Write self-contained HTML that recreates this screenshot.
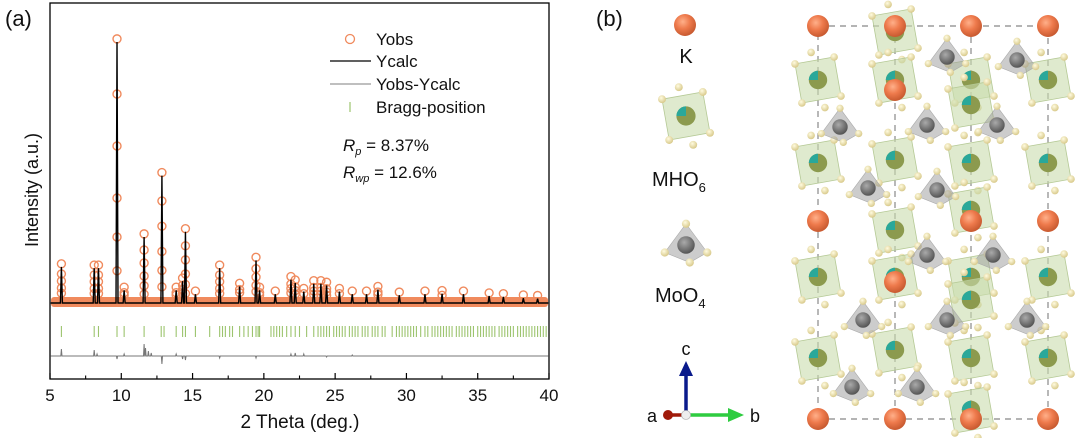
<!DOCTYPE html>
<html><head><meta charset="utf-8"><style>
body{margin:0;background:#fff;width:1080px;height:438px;overflow:hidden;font-family:"Liberation Sans",Arial,sans-serif}
svg text{font-family:"Liberation Sans",Arial,sans-serif}
</style></head><body>
<svg id="fig" width="1080" height="438" viewBox="0 0 1080 438" xmlns="http://www.w3.org/2000/svg">
<g id="chart"></g>
<g id="struct"></g>
</svg>
<script>
// ---------- Chart data ----------
const peakPos = [5.8,8.1,8.4,9.7,10.2,11.6,12.85,13.85,14.3,14.5,15.2,16.9,18.3,19.45,19.7,20.8,21.9,22.2,22.8,23.5,24.0,24.4,25.3,26.2,27.2,28.0,29.5,31.3,32.5,34.0,35.8,36.8,38.2,39.2];
const peakInt = [13.5,13,13,100,4.5,25,48.6,4.5,8,27,3,13,6,16,4.5,3,8.6,7.3,4,7,7,6.4,4,3,3,4.8,2.6,3,3.2,3,2.3,2,1.5,1.3];
const braggPos = [5.8,8.1,8.4,9.7,10.2,11.6,12.8,13.0,13.85,14.3,14.5,15.2,16.2,16.9,17.1,17.3,17.6,17.8,18.3,18.6,18.9,19.2,19.45,19.6,19.7,20.5,20.7,20.9,21.1,21.3,21.6,21.9,22.2,22.5,23.0,23.5,23.8,24.0,24.2,24.4,24.6,24.9,25.1,25.3,25.5,25.7,26.0,26.2,26.4,26.6,26.9,27.1,27.3,27.6,27.8,28.0,28.3,28.5,29.0,29.3,29.5,29.7,29.9,30.1,30.3,30.5,30.7,31.0,31.3,31.5,31.8,32.0,32.2,32.4,32.6,32.8,33.0,33.2,33.5,33.7,33.9,34.1,34.3,34.5,34.7,35.0,35.2,35.4,35.6,35.8,36.0,36.2,36.5,36.7,36.9,37.1,37.3,37.5,37.8,38.0,38.2,38.4,38.6,38.8,39.0,39.2,39.4,39.6,39.8];
const diffPos = [5.8,8.1,8.3,9.7,10.2,11.6,11.7,11.9,12.1,12.85,13.85,14.3,14.5,16.9,19.45,21.9,22.2,22.8,24.4,26.2];
const diffVal = [7,6,2,-3,2,12,8,5,3,-8,2,-3,-4,-2,-2,2,3,2,-1,1];
const xTicks = [5,10,15,20,25,30,35,40];

const NS="http://www.w3.org/2000/svg";
function mk(parent,tag,attrs){const e=document.createElementNS(NS,tag);for(const k in attrs)e.setAttribute(k,attrs[k]);parent.appendChild(e);return e;}
const chart=document.getElementById('chart');
const X0=50,X1=549,YT=3,YB=379,BASE=302,TOP=42;
const xs=v=>X0+(v-5)/35*(X1-X0);
const ys=v=>BASE-(v/100)*(BASE-TOP);

let fr=mk(chart,'rect',{x:X0,y:YT,width:X1-X0,height:YB-YT,fill:'none',stroke:'#000','stroke-width':1.3});


for(let i=0;i<xTicks.length;i++){
  const t=xTicks[i];
  let l=mk(chart,'line',{x1:xs(t),x2:xs(t),y1:YB,y2:YB-6,stroke:'#000','stroke-width':1.2});
  
  
  if(i<xTicks.length-1){
    let m=mk(chart,'line',{x1:xs(t+2.5),x2:xs(t+2.5),y1:YB,y2:YB-3.5,stroke:'#000','stroke-width':1.1});
    
    
  }
  let tx=mk(chart,'text',{x:xs(t),y:401,'font-size':17,'text-anchor':'middle',fill:'#111'});
  tx.textContent=t;
  
  
}
let band=mk(chart,'rect',{x:X0+1,y:BASE-5,width:X1-X0-2,height:10,fill:'#f08a5d',rx:3});


const fracs=[1,0.8,0.6,0.4,0.25,0.12];
for(let i=0;i<peakPos.length;i++){
  const h=peakInt[i];
  fracs.forEach(f=>{
    if(h*f<2.5 && f<1)return;
    let c=mk(chart,'circle',{cx:xs(peakPos[i]),cy:ys(h*f+(f===1?1.2:0)),r:4,fill:'none',stroke:'#f08a5d','stroke-width':1.4});
    
    
  });
}
let d='M'+xs(5.05)+','+(BASE+1);
peakPos.forEach((p,i)=>{d+=' L'+(xs(p)-1)+','+(BASE+1)+' L'+xs(p)+','+ys(peakInt[i])+' L'+(xs(p)+1)+','+(BASE+1);});
d+=' L'+xs(39.95)+','+(BASE+1);
let yc=mk(chart,'path',{d:d,fill:'none',stroke:'#000','stroke-width':1.4});


braggPos.forEach(p=>{
  let b=mk(chart,'line',{x1:xs(p),x2:xs(p),y1:326,y2:337,stroke:'#9cc46e','stroke-width':1.1});
  
  
});
const DB=356;
let dd='M'+xs(5.05)+','+DB;
diffPos.forEach((p,i)=>{dd+=' L'+(xs(p)-0.6)+','+DB+' L'+xs(p)+','+(DB-diffVal[i])+' L'+(xs(p)+0.6)+','+DB;});
dd+=' L'+xs(39.95)+','+DB;
let df=mk(chart,'path',{d:dd,fill:'none',stroke:'#777','stroke-width':1});


</script>
<script>
const ch=document.getElementById('chart');
ch.insertAdjacentHTML('beforeend',`
<text x="5" y="26" font-size="22" fill="#111">(a)</text>
<text x="0" y="0" font-size="18" fill="#111" text-anchor="middle" transform="translate(38,190) rotate(-90)">Intensity (a.u.)</text>
<text x="300" y="428" font-size="19" fill="#111" text-anchor="middle">2 Theta (deg.)</text>
<g>
<circle cx="350" cy="39" r="4.5" fill="none" stroke="#f08a5d" stroke-width="1.3"/>
<text x="376" y="45" font-size="17" fill="#111">Yobs</text>
<line x1="330" x2="371" y1="61" y2="61" stroke="#000" stroke-width="1.3"/>
<text x="376" y="67" font-size="17" fill="#111">Ycalc</text>
<line x1="330" x2="371" y1="84" y2="84" stroke="#999" stroke-width="1.2"/>
<text x="376" y="90" font-size="17" fill="#111">Yobs-Ycalc</text>
<line x1="350" x2="350" y1="102" y2="112" stroke="#9cc46e" stroke-width="1.2"/>
<text x="376" y="113" font-size="17" fill="#111">Bragg-position</text>
</g>
<text x="343" y="151" font-size="17" fill="#111"><tspan font-style="italic">R</tspan><tspan font-style="italic" font-size="11" dy="4">p</tspan><tspan dy="-4"> = 8.37%</tspan></text>
<text x="343" y="178" font-size="17" fill="#111"><tspan font-style="italic">R</tspan><tspan font-style="italic" font-size="11" dy="4">wp</tspan><tspan dy="-4"> = 12.6%</tspan></text>
`);

const st=document.getElementById('struct');
let h=`<defs>
<radialGradient id="gK" cx="40%" cy="35%" r="65%"><stop offset="0" stop-color="#ffb08a"/><stop offset="0.5" stop-color="#ee7a4c"/><stop offset="1" stop-color="#c85a30"/></radialGradient>
<radialGradient id="gO" cx="40%" cy="35%" r="65%"><stop offset="0" stop-color="#fffbe0"/><stop offset="1" stop-color="#d8c98a"/></radialGradient>
<radialGradient id="gMo" cx="40%" cy="35%" r="65%"><stop offset="0" stop-color="#aaa"/><stop offset="1" stop-color="#555"/></radialGradient>
</defs>
<text x="596" y="26" font-size="22" fill="#111">(b)</text>`;
h+=`<g stroke="#888" stroke-width="1.2" stroke-dasharray="6,5" fill="none">
<rect x="818" y="26" width="230" height="393"/><line x1="895" y1="26" x2="895" y2="419"/><line x1="971" y1="26" x2="971" y2="419"/></g>`;
function oct(x,y,s){
  let r=`<g><polygon points="${x-20*s},${y-14*s} ${x+14*s},${y-20*s} ${x+20*s},${y+14*s} ${x-14*s},${y+20*s}" fill="#c9dcae" fill-opacity="0.6" stroke="#b5c995" stroke-width="0.8"/>`;
  r+=`<circle cx="${x}" cy="${y}" r="${8*s}" fill="#8c9a4e"/><path d="M${x-8*s},${y} A${8*s},${8*s} 0 0 1 ${x},${y-8*s} L${x},${y}Z" fill="#2aa89a"/>`;
  [[-20,-14],[14,-20],[20,14],[-14,20],[-6,-24],[6,24]].forEach(([a,b])=>{r+=`<circle cx="${x+a*s}" cy="${y+b*s}" r="${3.3*s}" fill="url(#gO)"/>`;});
  return r+'</g>';
}
function tet(x,y,s){
  let r=`<g><polygon points="${x},${y-17*s} ${x+17*s},${y+6*s} ${x+3*s},${y+14*s} ${x-17*s},${y+6*s}" fill="#999" fill-opacity="0.5" stroke="#aaa" stroke-width="0.6"/>`;
  r+=`<circle cx="${x}" cy="${y}" r="${7*s}" fill="url(#gMo)"/>`;
  [[0,-17],[17,6],[3,14],[-17,6]].forEach(([a,b])=>{r+=`<circle cx="${x+a*s}" cy="${y+b*s}" r="${3.3*s}" fill="url(#gO)"/>`;});
  return r+'</g>';
}
const octs=[[818,80],[818,163],[818,277],[818,358],[895,32],[895,80],[895,160],[895,230],[895,277],[895,350],[971,80],[971,105],[971,163],[971,210],[971,277],[971,300],[971,358],[971,410],[1048,80],[1048,163],[1048,277],[1048,358]];
octs.forEach(([x,y])=>h+=oct(x,y,1.15));
const tets=[[840,127],[927,125],[997,125],[1017,60],[947,57],[868,188],[937,190],[927,255],[993,255],[863,320],[947,320],[1027,320],[852,387],[917,387]];
tets.forEach(([x,y])=>h+=tet(x,y,1.1));
const Ks=[[818,26],[895,26],[971,26],[1048,26],[895,90],[818,221],[971,221],[1048,221],[895,282],[818,419],[895,419],[971,419],[1048,419]];
Ks.forEach(([x,y])=>h+=`<circle cx="${x}" cy="${y}" r="11" fill="url(#gK)"/>`);
h+=`<circle cx="685" cy="25" r="11" fill="url(#gK)"/>
<text x="686" y="63" font-size="20" text-anchor="middle" fill="#111">K</text>`;
h+=oct(686,116,1.2).replace('mho6-octahedron','mho6-legend-icon');
h+=`<text x="652" y="186" font-size="20" fill="#111">MHO<tspan font-size="13" dy="6">6</tspan></text>`;
h+=tet(686,245,1.25).replace('moo4-tetrahedron','moo4-legend-icon');
h+=`<text x="655" y="302" font-size="20" fill="#111">MoO<tspan font-size="13" dy="6">4</tspan></text>`;
h+=`<g>
<line x1="686" y1="415" x2="686" y2="374" stroke="#0a1a8c" stroke-width="3.5"/><polygon points="679,376 693,376 686,361" fill="#0a1a8c"/>
<line x1="686" y1="415" x2="730" y2="415" stroke="#2ecc40" stroke-width="3.5"/><polygon points="728,408 728,422 744,415" fill="#2ecc40"/>
<line x1="686" y1="415" x2="670" y2="415" stroke="#a01a0a" stroke-width="3.5"/><circle cx="668" cy="415" r="5" fill="#a01a0a"/>
<circle cx="686" cy="415" r="4.5" fill="#eee" stroke="#bbb" stroke-width="0.8"/>
<text x="686" y="355" font-size="18" text-anchor="middle" fill="#111">c</text>
<text x="647" y="422" font-size="18" fill="#111">a</text>
<text x="750" y="422" font-size="18" fill="#111">b</text></g>`;
st.innerHTML=h;
</script>
</body></html>
